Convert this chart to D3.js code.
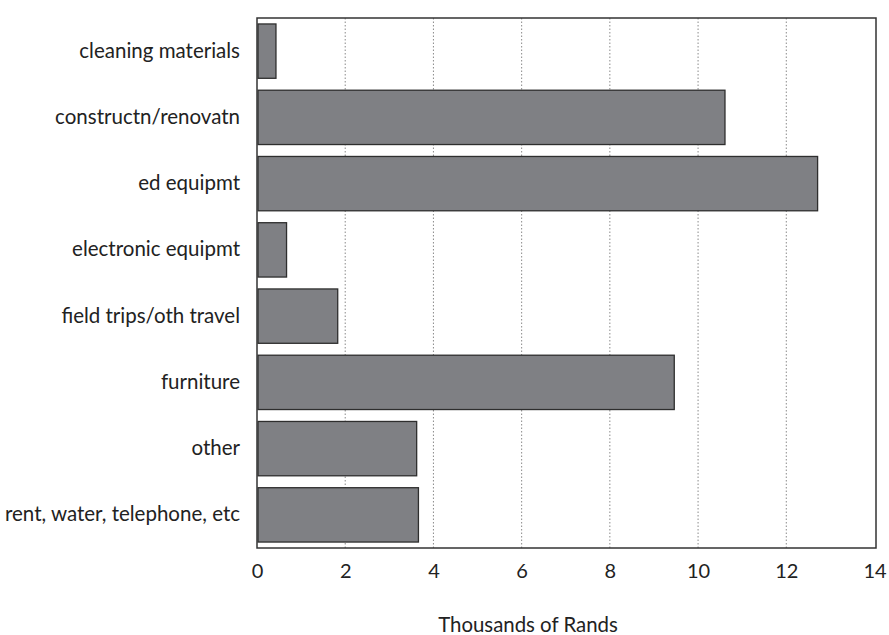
<!DOCTYPE html>
<html><head><meta charset="utf-8">
<script src="https://cdn.jsdelivr.net/npm/d3@7"></script>
<style>body{margin:0;background:#fff}</style>
</head><body>
<svg id="c" width="889" height="635"></svg>
<script>
const categories = ["cleaning materials","constructn/renovatn","ed equipmt","electronic equipmt","field trips/oth travel","furniture","other","rent, water, telephone, etc"];
const values = [0.43, 10.61, 12.71, 0.67, 1.83, 9.46, 3.62, 3.66];
const xTicks = [0,2,4,6,8,10,12,14];
const xTitle = "Thousands of Rands";

const svg = d3.select("#c");
const L = 257, R = 876, T = 18, B = 548;
const x = d3.scaleLinear().domain([0,14]).range([L, R-1.5]);
const y = d3.scaleBand().domain(categories).range([T, B]).paddingInner(0.18).paddingOuter(0.09);
const font = "Lato, 'Open Sans', sans-serif";

// grid
svg.append("g").selectAll("line").data(xTicks.filter(d=>d>0 && d<14)).join("line")
  .attr("x1",d=>x(d)).attr("x2",d=>x(d)).attr("y1",T).attr("y2",B)
  .attr("stroke","#8a8a8a").attr("stroke-width",1).attr("stroke-dasharray","1.5,2");

// bars
svg.append("g").selectAll("rect").data(categories).join("rect")
  .attr("x", x(0)+1).attr("y", d=>y(d))
  .attr("width", (d,i)=>x(values[i])-x(0)-1).attr("height", y.bandwidth())
  .attr("fill","#7f8084").attr("stroke","#2e2e2e").attr("stroke-width",1.3);

// frame
svg.append("rect").attr("x",L).attr("y",T).attr("width",R-L).attr("height",B-T)
  .attr("fill","none").attr("stroke","#333").attr("stroke-width",1.5);

// x axis labels
const xa = svg.append("g").attr("transform",`translate(0,${B})`)
  .call(d3.axisBottom(x).tickValues(xTicks).tickSize(0).tickPadding(16).tickFormat(d3.format("d")));
xa.select(".domain").remove();
xa.selectAll("text").attr("font-family",font).attr("font-size",20).attr("fill","#222");

// y axis labels
const ya = svg.append("g").attr("transform",`translate(${L},0)`)
  .call(d3.axisLeft(y).tickSize(0).tickPadding(17));
ya.select(".domain").remove();
ya.selectAll("text").attr("font-family",font).attr("font-size",20.5).attr("fill","#222");

svg.append("text").attr("x",528).attr("y",632).attr("text-anchor","middle")
  .attr("font-family",font).attr("font-size",20.4).attr("fill","#222").text(xTitle);
</script>
</body></html>
